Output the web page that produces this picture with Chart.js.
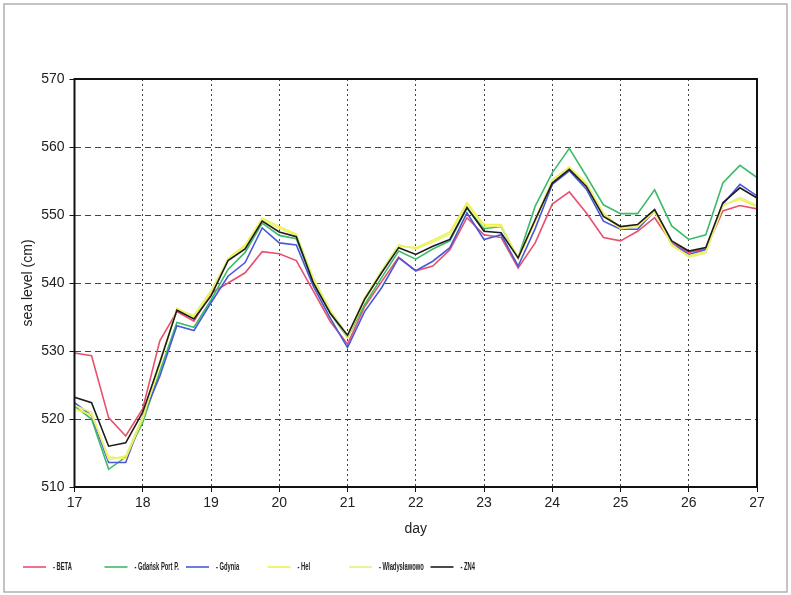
<!DOCTYPE html>
<html lang="en">
<head>
<meta charset="UTF-8">
<title>Sea level</title>
<style>
  html, body { margin: 0; padding: 0; background: #fff; }
  #wrap { width: 791px; height: 595px; position: relative; }
</style>
</head>
<body>
<div id="wrap"><canvas id="seaChart" width="791" height="595"></canvas></div>

<script src="https://cdn.jsdelivr.net/npm/chart.js"></script>
<script>
// time axis: every 6 hours from day 17 to day 27
var days = [17, 17.25, 17.5, 17.75, 18, 18.25, 18.5, 18.75, 19, 19.25, 19.5, 19.75,
            20, 20.25, 20.5, 20.75, 21, 21.25, 21.5, 21.75, 22, 22.25, 22.5, 22.75,
            23, 23.25, 23.5, 23.75, 24, 24.25, 24.5, 24.75, 25, 25.25, 25.5, 25.75,
            26, 26.25, 26.5, 26.75, 27];

var beta = [529.7, 529.3, 520.2, 517.5, 521.5, 531.5, 535.8, 534.4, 538.5, 540.0, 541.5, 544.6,
            544.3, 543.3, 538.8, 534.3, 531.0, 536.5, 540.2, 543.8, 541.8, 542.5, 544.9, 549.6,
            547.1, 546.7, 542.2, 545.9, 551.6, 553.4, 550.3, 546.7, 546.2, 547.6, 549.6, 545.9,
            544.5, 545.0, 550.6, 551.4, 550.9];

var gdansk = [521.9, 520.0, 512.6, 514.4, 519.5, 527.0, 534.2, 533.5, 537.5, 542.0, 544.5, 548.8,
              547.0, 546.5, 540.0, 535.5, 532.0, 536.8, 540.8, 544.7, 543.5, 545.0, 546.2, 551.0,
              548.0, 548.3, 543.7, 551.3, 556.2, 559.8, 555.7, 551.5, 550.2, 550.2, 553.7, 548.4,
              546.4, 547.1, 554.7, 557.3, 555.5];

var gdynia = [522.4, 520.5, 513.6, 513.6, 520.3, 526.3, 533.7, 533.0, 537.1, 541.0, 543.0, 548.1,
              545.9, 545.6, 539.5, 534.8, 530.5, 535.8, 539.3, 543.7, 541.8, 543.2, 545.2, 550.3,
              546.4, 547.1, 542.5, 548.0, 554.5, 556.5, 553.8, 549.1, 547.9, 547.9, 550.6, 545.8,
              544.2, 544.9, 551.6, 554.5, 552.8];

var hel = [521.5, 520.6, 514.4, 514.2, 520.0, 528.0, 536.3, 535.0, 538.6, 543.6, 545.6, 549.5,
           548.3, 547.2, 540.5, 535.9, 532.0, 537.4, 541.6, 545.4, 545.2, 546.3, 547.5, 551.8,
           548.6, 548.6, 543.5, 549.0, 555.0, 556.9, 554.5, 550.0, 548.0, 548.3, 550.5, 545.5,
           544.0, 544.6, 551.5, 552.3, 551.2];

var wladyslawowo = [522.0, 521.0, 514.0, 514.6, 520.4, 528.5, 536.0, 535.3, 538.9, 543.4, 545.3, 549.3,
                    548.0, 547.0, 540.8, 536.0, 532.3, 537.8, 541.9, 545.6, 545.0, 546.0, 547.2, 551.5,
                    548.3, 548.4, 543.8, 549.4, 555.2, 557.1, 554.7, 550.3, 548.2, 548.5, 550.7, 545.7,
                    543.8, 544.4, 551.3, 552.6, 551.4];

var zn4 = [523.2, 522.4, 516.0, 516.5, 521.0, 528.3, 536.0, 534.7, 538.1, 543.3, 545.0, 549.1,
           547.5, 546.8, 540.0, 535.5, 532.3, 537.6, 541.5, 545.2, 544.2, 545.4, 546.4, 551.1,
           547.6, 547.4, 543.7, 549.3, 554.7, 556.7, 554.2, 549.8, 548.3, 548.6, 550.8, 546.2,
           544.7, 545.2, 551.8, 554.0, 552.5];

var names  = ['BETA', 'Gdańsk Port P.', 'Gdynia', 'Hel', 'Władysławowo', 'ZN4'];
var series = [beta, gdansk, gdynia, hel, wladyslawowo, zn4];
var colors = ['#e8506e', '#3dba6a', '#4a58d8', '#f2f04a', '#e6f27a', '#1c1c1c'];

var xTicks = [17, 18, 19, 20, 21, 22, 23, 24, 25, 26, 27];
var yTicks = [510, 520, 530, 540, 550, 560, 570];

function toPoints(arr) {
  var pts = [];
  for (var i = 0; i < arr.length; i++) {
    pts.push({ x: days[i], y: arr[i] });
  }
  return pts;
}

var datasets = [];
for (var i = 0; i < names.length; i++) {
  datasets.push({
    label: names[i],
    data: toPoints(series[i]),
    borderColor: colors[i],
    backgroundColor: colors[i],
    borderWidth: 1.6,
    pointRadius: 0,
    tension: 0,
    order: names.length - i   // ZN4 drawn last, on top
  });
}

// frame around plot + outer border + bottom legend
var framePlugin = {
  id: 'frame',
  afterDraw: function (chart) {
    var ctx = chart.ctx;
    var a = chart.chartArea;
    ctx.save();
    ctx.strokeStyle = '#111';
    ctx.lineWidth = 2;
    ctx.strokeRect(a.left, a.top, a.right - a.left, a.bottom - a.top);

    ctx.strokeStyle = '#b0b0b0';
    ctx.lineWidth = 1.5;
    ctx.strokeRect(4, 4, 783, 588);

    // legend: fixed slots, ~81px apart, narrow text
    var ds = chart.data.datasets;
    ctx.font = 'bold 10px "Liberation Sans", Arial, sans-serif';
    ctx.textBaseline = 'middle';
    for (var k = 0; k < ds.length; k++) {
      var x0 = 23 + k * 81.5;
      var y0 = 567;
      ctx.strokeStyle = ds[k].borderColor;
      ctx.lineWidth = 1.6;
      ctx.beginPath();
      ctx.moveTo(x0, y0);
      ctx.lineTo(x0 + 23, y0);
      ctx.stroke();
      ctx.save();
      ctx.translate(x0 + 30, y0);
      ctx.scale(0.58, 1);
      ctx.fillStyle = '#222';
      ctx.fillText('- ' + ds[k].label, 0, 0);
      ctx.restore();
    }
    ctx.restore();
  }
};

new Chart(document.getElementById('seaChart'), {
  type: 'line',
  data: { datasets: datasets },
  options: {
    responsive: false,
    animation: false,
    devicePixelRatio: 1,
    layout: { padding: { left: 20, top: 79, right: 34, bottom: 57 } },
    plugins: {
      legend: { display: false },
      tooltip: { enabled: false }
    },
    scales: {
      x: {
        type: 'linear',
        min: 17,
        max: 27,
        afterBuildTicks: function (scale) {
          scale.ticks = xTicks.map(function (v) { return { value: v }; });
        },
        afterFit: function (scale) { scale.height = 51; },
        grid: {
          color: '#444',
          lineWidth: 1,
          tickLength: 5,
          tickColor: '#111',
          tickBorderDash: [],
        },
        border: { display: false, dash: [2, 3] },
        ticks: {
          color: '#222',
          font: { family: '"Liberation Sans", Arial, sans-serif', size: 14 },
          padding: 3,
          maxRotation: 0
        },
        title: {
          display: true,
          text: 'day',
          color: '#222',
          font: { family: '"Liberation Sans", Arial, sans-serif', size: 14 },
          padding: { top: 2, bottom: 0 }
        }
      },
      y: {
        min: 510,
        max: 570,
        afterBuildTicks: function (scale) {
          scale.ticks = yTicks.map(function (v) { return { value: v }; });
        },
        afterFit: function (scale) { scale.width = 54.5; },
        grid: {
          color: '#444',
          lineWidth: 1,
          tickLength: 5,
          tickColor: '#111',
          tickBorderDash: [],
        },
        border: { display: false, dash: [6, 4] },
        ticks: {
          color: '#222',
          font: { family: '"Liberation Sans", Arial, sans-serif', size: 14 },
          padding: 5
        },
        title: {
          display: true,
          text: 'sea level (cm)',
          color: '#222',
          font: { family: '"Liberation Sans", Arial, sans-serif', size: 14 },
          padding: { top: 0, bottom: 4 }
        }
      }
    }
  },
  plugins: [framePlugin]
});
</script>
</body>
</html>
